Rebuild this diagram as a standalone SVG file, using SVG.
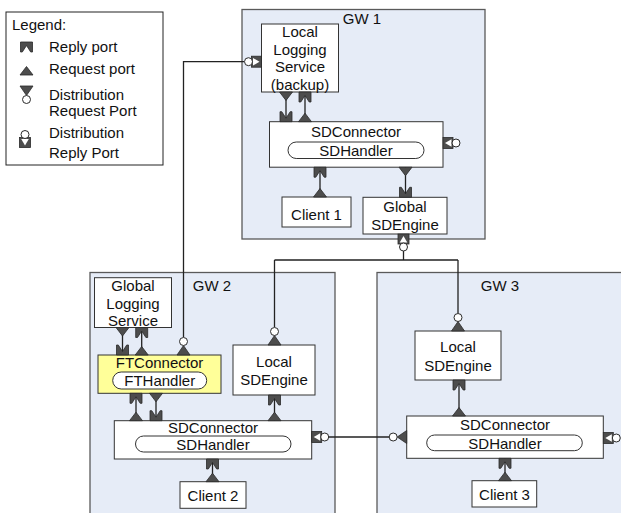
<svg xmlns="http://www.w3.org/2000/svg" xmlns:xlink="http://www.w3.org/1999/xlink" width="621" height="513" viewBox="0 0 621 513">
<style>
text{font-family:"Liberation Sans",Arial,sans-serif;font-size:15px;fill:#111}
.c{text-anchor:middle}
.gw{fill:#E6ECF7;stroke:#5a5a5a;stroke-width:1.3}
.box{fill:#fff;stroke:#333;stroke-width:1}
.ft{fill:#FFFF99;stroke:#333;stroke-width:1}
.pill{fill:#fff;stroke:#333;stroke-width:1}
.ln{fill:none;stroke:#222;stroke-width:1.3}
.dk{fill:#4d4d4d;stroke:#2a2a2a;stroke-width:0.8}
.wc{fill:#fff;stroke:#2a2a2a;stroke-width:1}
.wt{fill:#fff;stroke:none}
</style>
<defs>
<polygon id="req" class="dk" points="-6.5,0 6.5,0 0,-8.5"/>
<path id="rep" class="dk" d="M-6,0 V-10 H-4.2 L0,-3.5 L4.2,-10 H6 V0 Z"/>
<g id="dq"><polygon class="dk" points="-6.5,0 6.5,0 0,-9.5"/><circle class="wc" cx="0" cy="-13.5" r="4"/></g>
<g id="dr"><rect class="dk" x="-5.5" y="-10" width="11" height="10"/><polygon class="wt" points="-3.8,-8.5 3.8,-8.5 0,-2"/><circle class="wc" cx="0" cy="-13" r="4"/></g>
</defs>

<g id="legend">
<rect x="6" y="12" width="157" height="153" fill="#fff" stroke="#222" stroke-width="1"/>
<text x="12" y="29.5">Legend:</text>
<use xlink:href="#rep" transform="translate(26.5,42) rotate(180)"/>
<text x="49" y="51.5">Reply port</text>
<use xlink:href="#req" transform="translate(26.5,75)"/>
<text x="49" y="74">Request port</text>
<use xlink:href="#dq" transform="translate(26.5,86) rotate(180)"/>
<text x="49" y="99.5">Distribution</text>
<text x="49" y="116">Request Port</text>
<use xlink:href="#dr" transform="translate(25,147.5)"/>
<text x="49" y="138">Distribution</text>
<text x="49" y="158">Reply Port</text>
</g>

<g id="gw1">
<rect class="gw" x="242" y="9.5" width="243" height="229.5"/>
<text class="c" x="362" y="23.5">GW 1</text>
</g>
<g id="gw2">
<rect class="gw" x="90" y="272.5" width="245" height="250"/>
<text class="c" x="212" y="290.5">GW 2</text>
</g>
<g id="gw3">
<rect class="gw" x="377" y="272.5" width="260" height="250"/>
<text class="c" x="500" y="290.5">GW 3</text>
</g>

<g id="connectors">
<path class="ln" d="M183.5,337 V61.7 H244"/>
<path class="ln" d="M286,92 V122 M305,92 V122"/>
<path class="ln" d="M320,167 V197 M405.5,167 V197"/>
<path class="ln" d="M403.5,250 V260 M274.5,260 H458 M274.5,260 V327 M458,260 V313"/>
<path class="ln" d="M122.5,327.5 V355 M141.7,327.5 V355"/>
<path class="ln" d="M136,393 V421 M156,393 V421"/>
<path class="ln" d="M274.5,395 V421"/>
<path class="ln" d="M329,437 H389"/>
<path class="ln" d="M212.5,459 V482"/>
<path class="ln" d="M459,380 V416"/>
<path class="ln" d="M505,458 V481"/>
</g>

<g id="lls">
<rect class="box" x="261.5" y="24" width="77" height="68"/>
<text class="c" x="300" y="37">Local</text>
<text class="c" x="300" y="54.5">Logging</text>
<text class="c" x="300" y="72">Service</text>
<text class="c" x="300" y="89.5">(backup)</text>
<use xlink:href="#dr" transform="translate(261.5,61.7) rotate(-90)"/>
<use xlink:href="#req" transform="translate(286,92) rotate(180)"/>
<use xlink:href="#rep" transform="translate(305,92) rotate(180)"/>
</g>

<g id="sdc1">
<rect class="box" x="269.5" y="121.7" width="173.5" height="45.5"/>
<text class="c" x="356" y="137">SDConnector</text>
<rect class="pill" x="288" y="142" width="136" height="16.5" rx="8.25"/>
<text class="c" x="356" y="155.5">SDHandler</text>
<use xlink:href="#rep" transform="translate(286,121.7)"/>
<use xlink:href="#req" transform="translate(305,121.7)"/>
<use xlink:href="#rep" transform="translate(320,167.2) rotate(180)"/>
<use xlink:href="#req" transform="translate(405.5,167.2) rotate(180)"/>
<use xlink:href="#dr" transform="translate(443,143) rotate(90)"/>
</g>

<g id="client1">
<rect class="box" x="282" y="197" width="69" height="30"/>
<text class="c" x="316.5" y="219.5">Client 1</text>
<use xlink:href="#req" transform="translate(320,197)"/>
</g>

<g id="gsde">
<rect class="box" x="363" y="197.3" width="84" height="36.7"/>
<text class="c" x="405" y="212">Global</text>
<text class="c" x="405" y="229.5">SDEngine</text>
<use xlink:href="#rep" transform="translate(405.5,197.3)"/>
<use xlink:href="#dr" transform="translate(403.5,234) rotate(180)"/>
</g>

<g id="gls">
<rect class="box" x="94.5" y="277.7" width="77" height="49.8"/>
<text class="c" x="133" y="291">Global</text>
<text class="c" x="133" y="308.5">Logging</text>
<text class="c" x="133" y="325.7">Service</text>
<use xlink:href="#req" transform="translate(122.5,327.5) rotate(180)"/>
<use xlink:href="#rep" transform="translate(141.7,327.5) rotate(180)"/>
</g>

<g id="ftc">
<rect class="ft" x="98" y="355" width="123" height="38.3"/>
<text class="c" x="159.5" y="368">FTConnector</text>
<rect class="pill" x="112.7" y="372" width="94" height="17" rx="8.5"/>
<text class="c" x="159.7" y="386">FTHandler</text>
<use xlink:href="#rep" transform="translate(122.5,355)"/>
<use xlink:href="#req" transform="translate(141.7,355)"/>
<use xlink:href="#dq" transform="translate(183.5,355)"/>
<use xlink:href="#rep" transform="translate(136,393.3) rotate(180)"/>
<use xlink:href="#req" transform="translate(156,393.3) rotate(180)"/>
</g>

<g id="lsde2">
<rect class="box" x="233" y="345" width="82" height="50"/>
<text class="c" x="274" y="366.5">Local</text>
<text class="c" x="274" y="384.5">SDEngine</text>
<use xlink:href="#dq" transform="translate(274.5,345)"/>
<use xlink:href="#rep" transform="translate(274.5,395) rotate(180)"/>
</g>

<g id="sdc2">
<rect class="box" x="114.3" y="420.7" width="197.4" height="38.3"/>
<text class="c" x="213" y="432.5">SDConnector</text>
<rect class="pill" x="135.5" y="436" width="155.5" height="16" rx="8"/>
<text class="c" x="213" y="450">SDHandler</text>
<use xlink:href="#req" transform="translate(136,420.7)"/>
<use xlink:href="#rep" transform="translate(156,420.7)"/>
<use xlink:href="#req" transform="translate(274.5,420.7)"/>
<use xlink:href="#dr" transform="translate(311.7,437) rotate(90)"/>
<use xlink:href="#rep" transform="translate(212.5,459) rotate(180)"/>
</g>

<g id="client2">
<rect class="box" x="180" y="481.7" width="66" height="26.6"/>
<text class="c" x="213" y="501">Client 2</text>
<use xlink:href="#req" transform="translate(212.5,481.7)"/>
</g>

<g id="lsde3">
<rect class="box" x="415" y="331" width="86" height="49"/>
<text class="c" x="458" y="352">Local</text>
<text class="c" x="458" y="370.5">SDEngine</text>
<use xlink:href="#dq" transform="translate(458,331)"/>
<use xlink:href="#rep" transform="translate(459,380) rotate(180)"/>
</g>

<g id="sdc3">
<rect class="box" x="406.7" y="416" width="196.6" height="42.3"/>
<text class="c" x="505" y="429.5">SDConnector</text>
<rect class="pill" x="426.7" y="435" width="155.6" height="15.7" rx="7.85"/>
<text class="c" x="505" y="448.5">SDHandler</text>
<use xlink:href="#req" transform="translate(459,416)"/>
<use xlink:href="#dq" transform="translate(406.7,437) rotate(-90)"/>
<use xlink:href="#dr" transform="translate(603.3,438) rotate(90)"/>
<use xlink:href="#rep" transform="translate(505,458.3) rotate(180)"/>
</g>

<g id="client3">
<rect class="box" x="472" y="480.7" width="64.7" height="26.3"/>
<text class="c" x="504.5" y="499.5">Client 3</text>
<use xlink:href="#req" transform="translate(505,480.7)"/>
</g>
</svg>
